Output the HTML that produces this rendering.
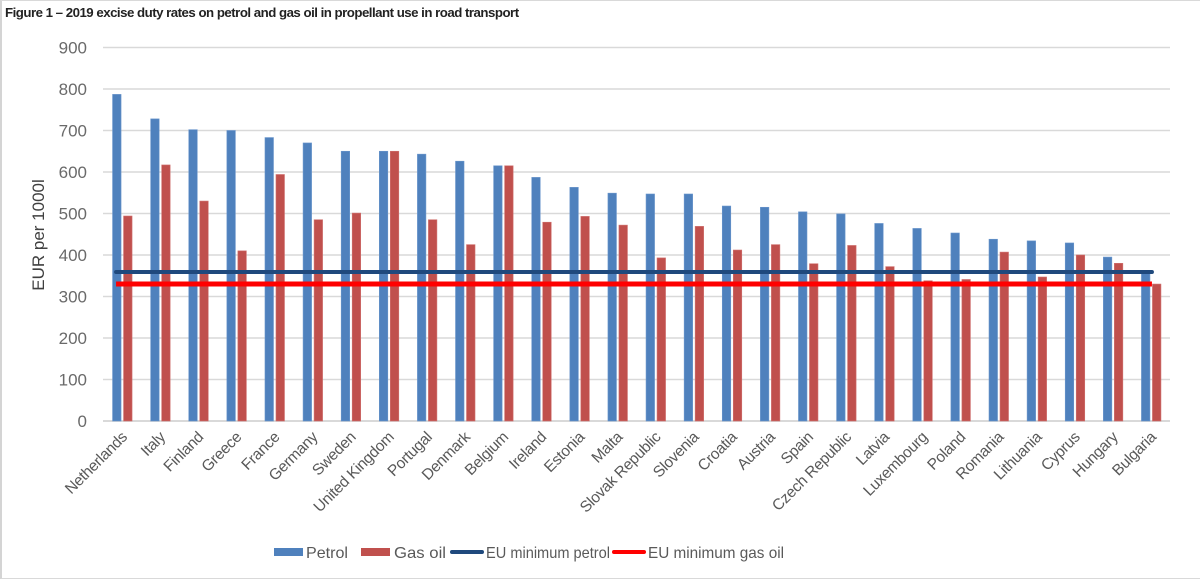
<!DOCTYPE html>
<html><head><meta charset="utf-8"><style>
body{margin:0;background:#fff;font-family:"Liberation Sans",sans-serif}
#wrap{position:relative;width:1200px;height:579px;overflow:hidden;background:#fff}
#border{position:absolute;left:0;top:0;width:1198px;height:577px;border:1px solid #d9d9d9;border-left:2px solid #d4d4d4}
#title{position:absolute;left:5px;top:5px;font-size:13px;color:#222;font-weight:bold;letter-spacing:-0.5px;transform:scaleX(1.02);transform-origin:left}
</style></head><body>
<div id="wrap">
<div id="border"></div>
<div id="title">Figure 1 – 2019 excise duty rates on petrol and gas oil in propellant use in road transport</div>
<svg id="chart" width="1200" height="579" style="position:absolute;left:0;top:0"></svg>
</div>
<script>
const categories=["Netherlands","Italy","Finland","Greece","France","Germany","Sweden","United Kingdom","Portugal","Denmark","Belgium","Ireland","Estonia","Malta","Slovak Republic","Slovenia","Croatia","Austria","Spain","Czech Republic","Latvia","Luxembourg","Poland","Romania","Lithuania","Cyprus","Hungary","Bulgaria"];
const petrol=[787,728,702,700,683,670,650,650,643,626,615,587,563,549,547,547,518,515,504,499,476,464,453,438,434,429,395,363];
const gasOil=[494,617,530,410,594,485,501,650,485,425,615,479,493,472,393,469,412,425,379,423,372,338,341,407,347,400,380,330];
const euMinPetrol=359;
const euMinGasOil=330;
const yTicks=[0,100,200,300,400,500,600,700,800,900];

const NS="http://www.w3.org/2000/svg";
const svg=document.getElementById('chart');
const L=103,R=1170,Y0=421,Y900=47.5;
const y=v=>Y0-(Y0-Y900)*v/900;
const bw=(R-L)/categories.length;
const cx=i=>L+bw*(i+0.5);
function mk(t,a){const e=document.createElementNS(NS,t);for(const k in a)e.setAttribute(k,a[k]);svg.appendChild(e);return e;}
yTicks.forEach(t=>{
  const g=mk('line',{x1:L,x2:R,y1:y(t),y2:y(t),stroke:'#d9d9d9','stroke-width':t===0?2:1.5});
  
  
  const tx=mk('text',{x:87,y:y(t)+6,'text-anchor':'end','font-size':17,fill:'#6a6a6a'});
  tx.textContent=t;
  
  
});
const yt=mk('text',{x:0,y:0,transform:'translate(44,235) rotate(-90)','text-anchor':'middle','font-size':17,fill:'#404040'});
yt.textContent='EUR per 1000l';


categories.forEach((c,i)=>{
  const p=mk('rect',{x:cx(i)-9.5,y:y(petrol[i]),width:8.5,height:Y0-y(petrol[i]),fill:'#4f81bd',stroke:'#6a96cc','stroke-width':0.6});
  
  
  const g=mk('rect',{x:cx(i)+1.5,y:y(gasOil[i]),width:8.5,height:Y0-y(gasOil[i]),fill:'#c0504d',stroke:'#d07270','stroke-width':0.6});
  
  
  const t=mk('text',{x:0,y:0,transform:`translate(${cx(i)+6},${438}) rotate(-45)`,'text-anchor':'end','font-size':15.5,fill:'#595959','letter-spacing':'-0.3'});
  t.textContent=c;
  
  
});
const lp=mk('line',{x1:cx(0)-6,x2:cx(categories.length-1)+1,y1:y(euMinPetrol),y2:y(euMinPetrol),stroke:'#1f497d','stroke-width':4,'stroke-linecap':'round'});


const lg=mk('line',{x1:cx(0)-6,x2:cx(categories.length-1)+1,y1:y(euMinGasOil),y2:y(euMinGasOil),stroke:'#ff0000','stroke-width':5});


const leg=[['rect','#4f81bd',274,'Petrol',306,42],['rect','#c0504d',361,'Gas oil',394,52],['line','#1f497d',452,'EU minimum petrol',486,124],['line','#ff0000',614,'EU minimum gas oil',648,136]];
leg.forEach(l=>{
  let s;
  if(l[0]==='rect') s=mk('rect',{x:l[2],y:548,width:29,height:8,fill:l[1]});
  else s=mk('line',{x1:l[2],x2:l[2]+30,y1:552,y2:552,stroke:l[1],'stroke-width':4,'stroke-linecap':'round'});
  
  
  const t=mk('text',{x:l[4],y:558,'font-size':16,fill:'#595959',textLength:l[5],lengthAdjust:'spacingAndGlyphs'});
  t.textContent=l[3];
  
  
});
</script>
</body></html>
